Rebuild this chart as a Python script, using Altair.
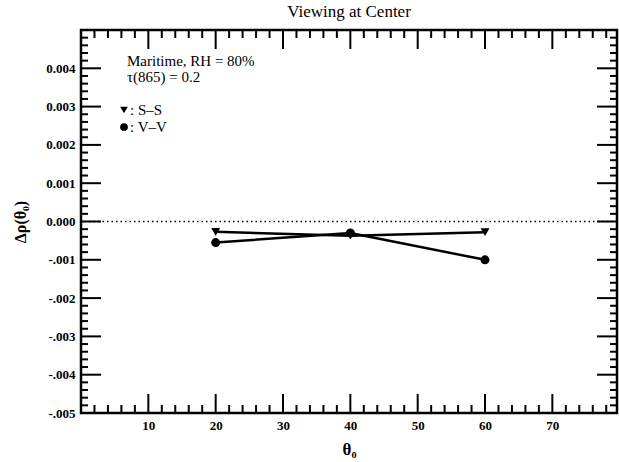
import altair as alt
import pandas as pd

# ---- data ----
theta0 = [20, 40, 60]
ss_values = [-0.00027, -0.00037, -0.00028]   # S-S (triangles)
vv_values = [-0.00055, -0.00030, -0.00100]   # V-V (circles)

x_tick_labels = [10, 20, 30, 40, 50, 60, 70]
y_tick_labels = [-0.005, -0.004, -0.003, -0.002, -0.001, 0.0, 0.001, 0.002, 0.003, 0.004]

x_major = [10, 20, 30, 40, 50, 60, 70]
x_minor = [v for v in range(2, 80, 2) if v % 10 != 0]
y_major = [-0.004, -0.003, -0.002, -0.001, 0.0, 0.001, 0.002, 0.003, 0.004]
y_minor = [round(-0.005 + 0.0002 * i, 4) for i in range(1, 50) if i % 5 != 0]

X_DOMAIN = [0, 79.6]
Y_DOMAIN = [-0.005, 0.005]
W, H = 536, 383
FONT = "Liberation Serif"

df = pd.DataFrame({
    "theta0": theta0 * 2,
    "value": ss_values + vv_values,
    "series": ["S-S"] * 3 + ["V-V"] * 3,
})

xs = alt.Scale(domain=X_DOMAIN, nice=False, zero=False)
ys = alt.Scale(domain=Y_DOMAIN, nice=False, zero=False)

ylabel_expr = ("datum.value < 0 ? '-' + slice(format(-datum.value, '.3f'), 1) "
               ": format(datum.value, '.3f')")

base_axes = alt.Chart(pd.DataFrame({"x": [0], "y": [0]})).mark_point(opacity=0).encode(
    x=alt.X("x:Q", scale=xs,
            axis=alt.Axis(values=x_tick_labels, title="θ₀", domain=False, ticks=False,
                          tickSize=0, grid=False, labelPadding=6, labelFontSize=13,
                          labelFontWeight="bold", labelFont=FONT, titleFont=FONT,
                          titleFontSize=17, titleFontWeight="bold", titlePadding=9)),
    y=alt.Y("y:Q", scale=ys,
            axis=alt.Axis(values=y_tick_labels, labelExpr=ylabel_expr, title="Δρ(θ₀)",
                          domain=False, ticks=False, tickSize=0, grid=False,
                          labelPadding=6, labelFontSize=13, labelFontWeight="bold",
                          labelFont=FONT, titleFont=FONT, titleFontSize=16,
                          titleFontWeight="bold", titlePadding=17)),
)

# tick marks (drawn inward on all four sides)
def xticks(vals, length, width):
    d = pd.DataFrame({"x": vals})
    bottom = alt.Chart(d).mark_rule(color="black", strokeWidth=width).encode(
        x=alt.X("x:Q", scale=xs), y=alt.value(H), y2=alt.value(H - length))
    top = alt.Chart(d).mark_rule(color="black", strokeWidth=width).encode(
        x=alt.X("x:Q", scale=xs), y=alt.value(0), y2=alt.value(length))
    return bottom + top

def yticks(vals, length, width):
    d = pd.DataFrame({"y": vals})
    left = alt.Chart(d).mark_rule(color="black", strokeWidth=width).encode(
        y=alt.Y("y:Q", scale=ys), x=alt.value(0), x2=alt.value(length))
    right = alt.Chart(d).mark_rule(color="black", strokeWidth=width).encode(
        y=alt.Y("y:Q", scale=ys), x=alt.value(W), x2=alt.value(W - length))
    return left + right

ticks = (xticks(x_major, 19, 2) + xticks(x_minor, 8, 2)
         + yticks(y_major, 20, 2) + yticks(y_minor, 7, 2))

zero_line = alt.Chart(pd.DataFrame({"y": [0.0]})).mark_rule(
    color="black", strokeWidth=1.5, strokeDash=[1.5, 3]).encode(
    y=alt.Y("y:Q", scale=ys))

lines = alt.Chart(df).mark_line(color="black", strokeWidth=2.5).encode(
    x=alt.X("theta0:Q", scale=xs),
    y=alt.Y("value:Q", scale=ys),
    detail="series:N",
)

points = alt.Chart(df).mark_point(filled=True, color="black", opacity=1, size=80).encode(
    x=alt.X("theta0:Q", scale=xs),
    y=alt.Y("value:Q", scale=ys),
    shape=alt.Shape("series:N",
                    scale=alt.Scale(domain=["S-S", "V-V"], range=["triangle-down", "circle"]),
                    legend=None),
)

# annotation text and hand-made legend
notes = pd.DataFrame({
    "label": ["Maritime, RH = 80%", "τ(865) = 0.2", ": S–S", ": V–V"],
    "px": [46, 46, 49, 49],
    "py": [31, 47, 80, 97],
})
note_text = alt.Chart(notes).mark_text(
    align="left", baseline="middle", font=FONT, fontSize=15, color="black").encode(
    text="label:N", x=alt.X("px:Q", scale=None), y=alt.Y("py:Q", scale=None))

leg = pd.DataFrame({"series": ["S-S", "V-V"], "px": [43, 43], "py": [80, 97]})
leg_pts = alt.Chart(leg).mark_point(filled=True, color="black", opacity=1, size=60).encode(
    x=alt.X("px:Q", scale=None), y=alt.Y("py:Q", scale=None),
    shape=alt.Shape("series:N",
                    scale=alt.Scale(domain=["S-S", "V-V"], range=["triangle-down", "circle"]),
                    legend=None),
)

chart = alt.layer(
    base_axes, ticks, zero_line, lines, points, note_text, leg_pts
).properties(
    width=W, height=H,
    title=alt.TitleParams("Viewing at Center", font=FONT, fontSize=17,
                          fontWeight="normal", color="black", offset=8, anchor="middle"),
    autosize=alt.AutoSizeParams(type="none"),
    padding={"left": 81, "top": 30, "right": 2, "bottom": 49},
).configure_view(
    stroke="black", strokeWidth=2.5
).configure_axis(
    labelColor="black", titleColor="black"
)

chart.save("out.html", embed_options={"renderer": "svg", "actions": False})
